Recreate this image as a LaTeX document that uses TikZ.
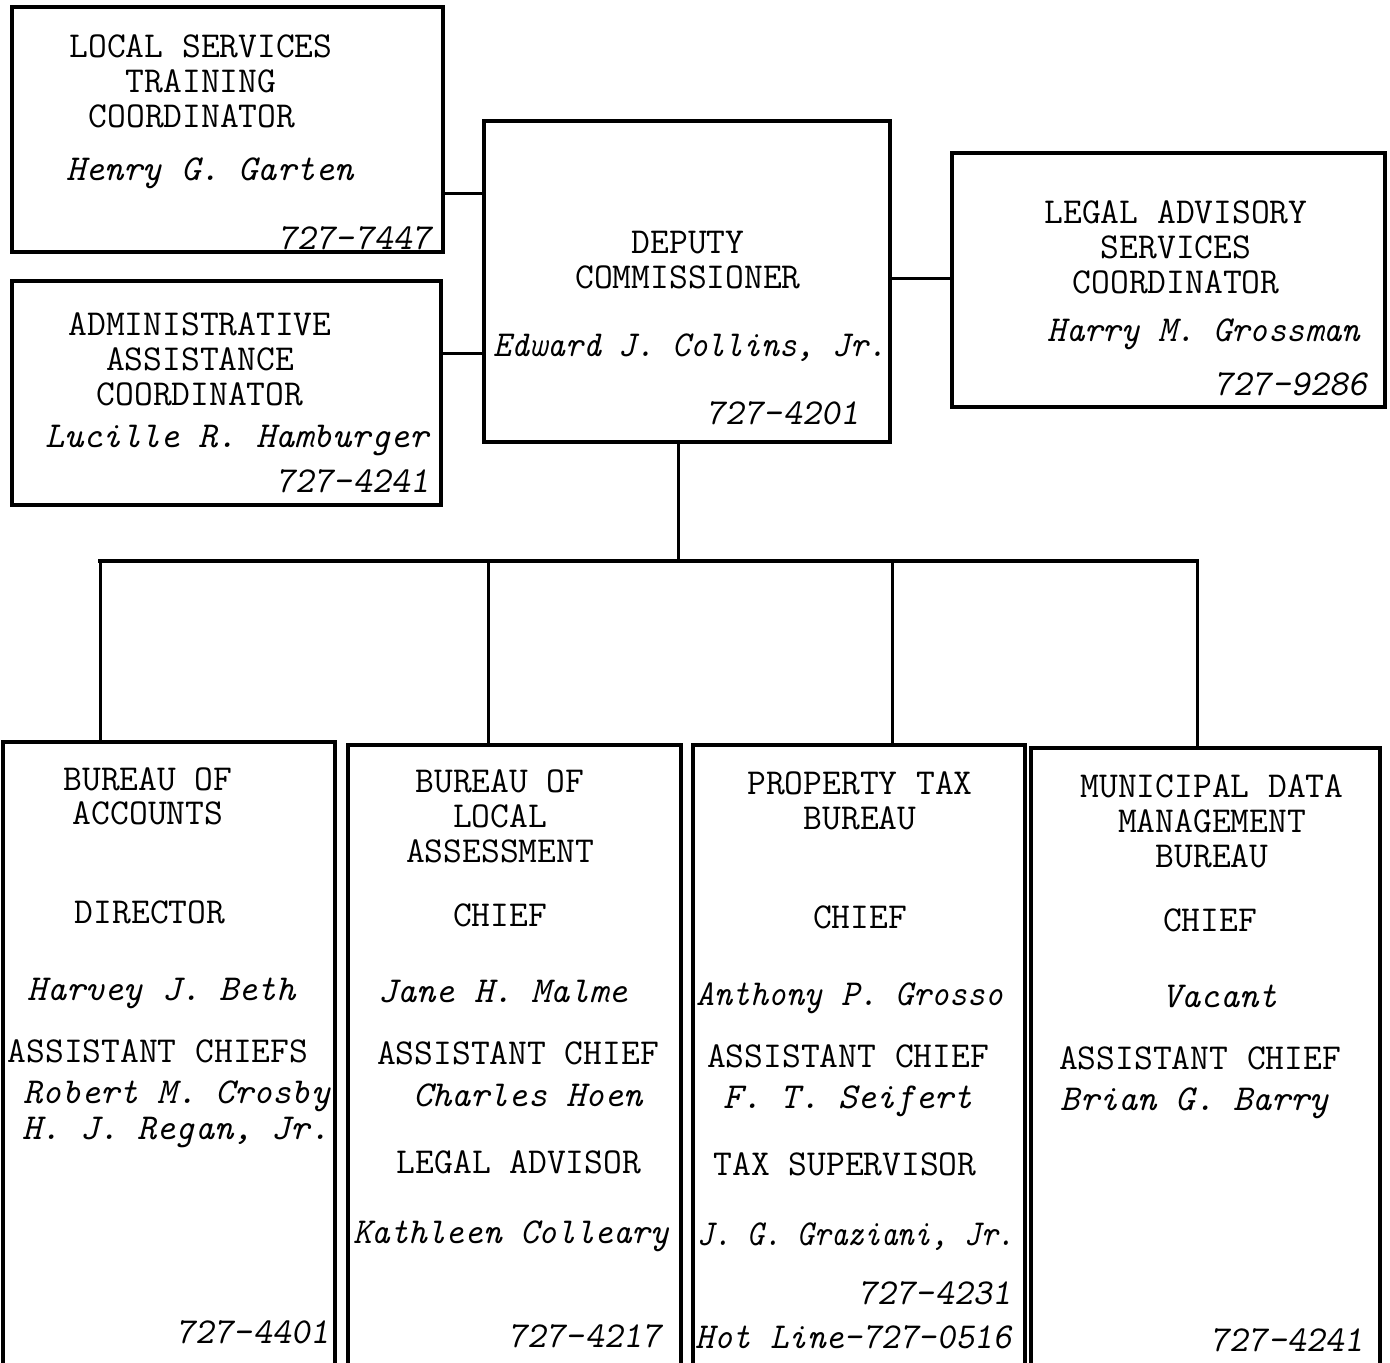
\documentclass[tikz,border=0pt]{standalone}
\usepackage{fontspec}
\usepackage{graphicx}
\begin{document}
\begin{tikzpicture}[x=1pt,y=-1pt,
  box/.style={draw=black,line width=3.6pt,inner sep=0pt,outer sep=0pt},
  captxt/.style={anchor=base,inner sep=0pt,font=\fontsize{36.5}{40}\selectfont\ttfamily},
  nm/.style={anchor=base,inner sep=0pt,font=\fontsize{36.5}{40}\selectfont\ttfamily\itshape},
  ph/.style={anchor=base east,inner sep=0pt,font=\fontsize{36.5}{40}\selectfont\ttfamily\slshape},
  wire/.style={draw=black,line width=3pt}]
\useasboundingbox (0,0) rectangle (1390,1363);
\fill[white] (0,0) rectangle (1390,1363);
\clip (0,0) rectangle (1390,1363);

% boxes
\node[box,minimum width=431pt,minimum height=245pt] (b1) at (227.5,129.5) {};
\node[box,minimum width=429pt,minimum height=224pt] (b2) at (226.5,393) {};
\node[box,minimum width=406pt,minimum height=321pt] (dep) at (687,281.5) {};
\node[box,minimum width=433pt,minimum height=254pt] (leg) at (1168.5,280) {};
\node[box,minimum width=332pt,minimum height=648pt] (b5) at (169,1066) {};
\node[box,minimum width=333pt,minimum height=645pt] (b6) at (514.5,1067.5) {};
\node[box,minimum width=332pt,minimum height=645pt] (b7) at (859,1067.5) {};
\node[box,minimum width=349pt,minimum height=642pt] (b8) at (1205.5,1069) {};

% box 1
\node[captxt] (t1a) at (201,57) {LOCAL SERVICES};
\node[captxt] (t1b) at (201,92) {TRAINING};
\node[captxt] (t1c) at (192,127) {COORDINATOR};
\node[nm] (t1d) at (210,180) {Henry G. Garten};
\node[ph] (t1e) at (432,249) {727-7447};
% box 2
\node[captxt] (t2a) at (200,335) {ADMINISTRATIVE};
\node[captxt] (t2b) at (200,370) {ASSISTANCE};
\node[captxt] (t2c) at (200,405) {COORDINATOR};
\node[nm] (t2d) at (237,447) {Lucille R. Hamburger};
\node[ph] (t2e) at (430,492) {727-4241};
% deputy
\node[captxt] (t3a) at (688,253) {DEPUTY};
\node[captxt] (t3b) at (688,288) {COMMISSIONER};
\node[nm] (t3c) at (690,356) {\scalebox{0.93}[1]{Edward J. Collins, Jr.}};
\node[ph] (t3d) at (860,424) {727-4201};
% legal
\node[captxt] (t4a) at (1176,223) {LEGAL ADVISORY};
\node[captxt] (t4b) at (1176,258) {SERVICES};
\node[captxt] (t4c) at (1176,293) {COORDINATOR};
\node[nm] (t4d) at (1204,341) {\scalebox{0.96}[1]{Harry M. Grossman}};
\node[ph] (t4e) at (1368,395) {727-9286};
% accounts
\node[captxt] (t5a) at (148,790) {BUREAU OF};
\node[captxt] (t5b) at (148,824) {ACCOUNTS};
\node[captxt] (t5c) at (150,923) {DIRECTOR};
\node[nm] (t5d) at (162,1000) {Harvey J. Beth};
\node[captxt] (t5e) at (158,1062) {ASSISTANT CHIEFS};
\node[nm] (t5f) at (177,1103) {Robert M. Crosby};
\node[nm] (t5g) at (176,1139) {H. J. Regan, Jr.};
\node[ph] (t5h) at (330,1343) {727-4401};
% local assessment
\node[captxt] (t6a) at (500,792) {BUREAU OF};
\node[captxt] (t6b) at (500,827) {LOCAL};
\node[captxt] (t6c) at (500,862) {ASSESSMENT};
\node[captxt] (t6d) at (500,926) {CHIEF};
\node[nm] (t6e) at (503,1002) {Jane H. Malme};
\node[captxt] (t6f) at (518,1064) {ASSISTANT CHIEF};
\node[nm] (t6g) at (528,1106) {Charles Hoen};
\node[captxt] (t6h) at (519,1173) {LEGAL ADVISOR};
\node[nm] (t6i) at (511,1243) {\scalebox{0.97}[1]{Kathleen Colleary}};
\node[ph] (t6j) at (662,1347) {727-4217};
% property tax
\node[captxt] (t7a) at (860,794) {PROPERTY TAX};
\node[captxt] (t7b) at (860,829) {BUREAU};
\node[captxt] (t7c) at (860,928) {CHIEF};
\node[nm] (t7d) at (850,1005) {\scalebox{0.94}[1]{Anthony P. Grosso}};
\node[captxt] (t7e) at (848,1067) {ASSISTANT CHIEF};
\node[nm] (t7f) at (848,1108) {F. T. Seifert};
\node[captxt] (t7g) at (845,1175) {TAX SUPERVISOR};
\node[nm] (t7h) at (856,1245) {\scalebox{0.87}[1]{J. G. Graziani, Jr.}};
\node[ph] (t7i) at (1012,1304) {727-4231};
\node[ph] (t7j) at (1012,1348) {\scalebox{0.97}[1]{{\itshape Hot Line}-727-0516}};
% municipal data
\node[captxt] (t8a) at (1212,797) {MUNICIPAL DATA};
\node[captxt] (t8b) at (1212,832) {MANAGEMENT};
\node[captxt] (t8c) at (1212,867) {BUREAU};
\node[captxt] (t8d) at (1210,931) {CHIEF};
\node[nm] (t8e) at (1220,1007) {Vacant};
\node[captxt] (t8f) at (1200,1069) {ASSISTANT CHIEF};
\node[nm] (t8g) at (1195,1110) {Brian G. Barry};
\node[ph] (t8h) at (1364,1351) {727-4241};

% connectors
\coordinate (j1) at (464,193);
\coordinate (j2) at (464,353);
\coordinate (j3) at (921,278);
\coordinate (bus) at (678,561);
\coordinate (k5) at (100,561);
\coordinate (k6) at (488,561);
\coordinate (k7) at (892,561);
\coordinate (k8) at (1197,561);
\draw[wire] (b1.east |- j1) -- (dep.west |- j1);
\draw[wire] (b2.east |- j2) -- (dep.west |- j2);
\draw[wire] (dep.east |- j3) -- (leg.west |- j3);
\draw[wire] (dep.south -| bus) -- (bus);
\draw[wire,line width=3.6pt,line cap=rect] (k5) -- (k8);
\draw[wire] (k5) -- (b5.north -| k5);
\draw[wire] (k6) -- (b6.north -| k6);
\draw[wire] (k7) -- (b7.north -| k7);
\draw[wire] (k8) -- (b8.north -| k8);
\end{tikzpicture}
\end{document}
